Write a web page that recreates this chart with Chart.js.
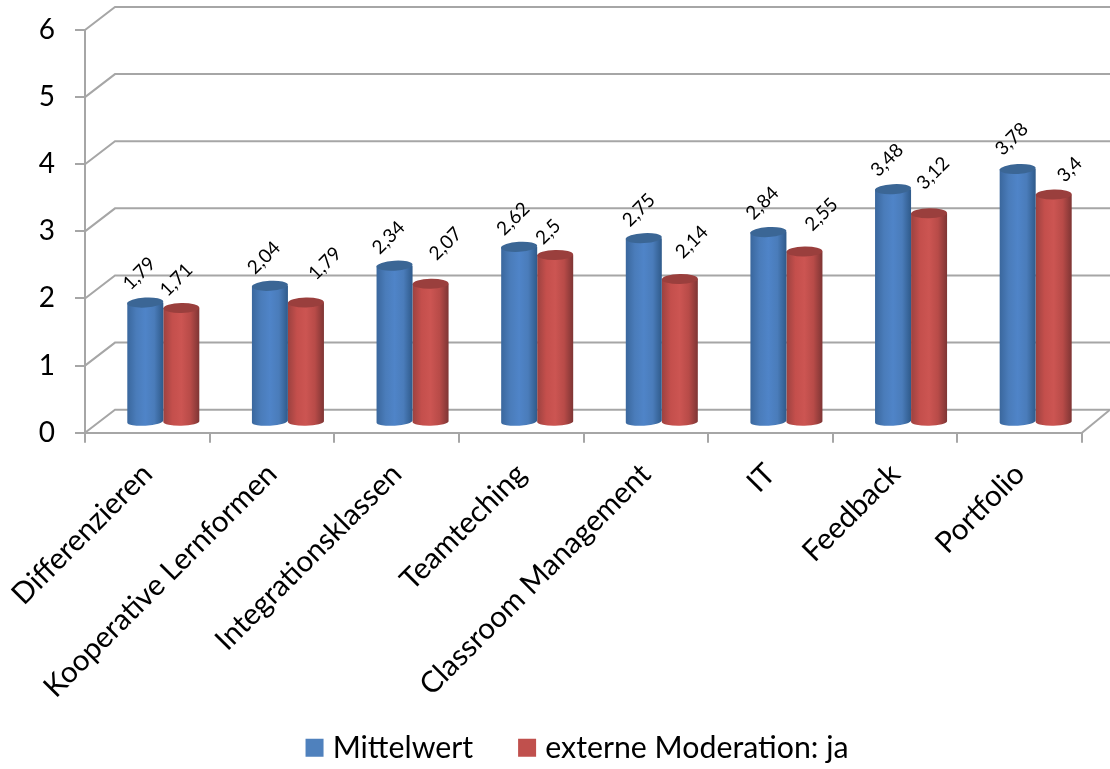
<!DOCTYPE html>
<html>
<head>
<meta charset="utf-8">
<title>Mittelwert</title>
<script src="https://cdn.jsdelivr.net/npm/chart.js@4"></script>
<style>
  html, body { margin: 0; padding: 0; background: #fff; }
  canvas { display: block; }
</style>
</head>
<body>
<canvas id="chart" width="1110" height="769"></canvas>
<script>
const categories = ['Differenzieren', 'Kooperative Lernformen', 'Integrationsklassen', 'Teamteching',
  'Classroom Management', 'IT', 'Feedback', 'Portfolio'];
const mittelwert = [1.79, 2.04, 2.34, 2.62, 2.75, 2.84, 3.48, 3.78];
const moderation = [1.71, 1.79, 2.07, 2.5, 2.14, 2.55, 3.12, 3.4];
const yTicks = [0, 1, 2, 3, 4, 5, 6];

// how far each value label sits from the top of its cylinder
const blueNudge = [[-6, -29], [-6, -28], [-6, -28], [-6, -28], [-5, -28], [-6, -29], [-6, -29], [-6, -30]];
const redNudge = [[-5, -28], [19, -39], [15, -40], [-7, -23], [12, -37], [17, -37], [4, -40], [16, -25]];

const GRID = '#a6a6a6';
const FONT = 'Lato, sans-serif';
// wall depth of the fake 3D box
const DEPTH_X = 30, DEPTH_Y = 23;
// bars stand on the floor, between the front edge and the back wall
const BAR_DX = 16, BAR_DY = -10;

function shade(ctx, left, right, stops) {
  const g = ctx.createLinearGradient(left, 0, right, 0);
  stops.forEach((c, i) => g.addColorStop(i / (stops.length - 1), c));
  return g;
}

// the plot box is placed by hand, so scales keep no room for their labels
function noMargins(scale) {
  scale.paddingTop = scale.paddingBottom = scale.paddingLeft = scale.paddingRight = 0;
  scale._margins = { top: 0, bottom: 0, left: 0, right: 0 };
}

// bar controller that paints each bar as a cylinder
class CylinderController extends Chart.BarController {
  draw() {
    const ctx = this.chart.ctx;
    const ds = this.getDataset();
    this._cachedMeta.data.forEach(bar => {
      const cx = bar.x + BAR_DX;
      const top = bar.y + BAR_DY;
      const bottom = bar.base + BAR_DY;
      const rx = bar.width / 2;
      ctx.save();
      ctx.beginPath();
      ctx.moveTo(cx - rx, top);
      ctx.lineTo(cx - rx, bottom);
      ctx.ellipse(cx, bottom, rx, 4, ds.tilt, Math.PI, 0, true);
      ctx.lineTo(cx + rx, top);
      ctx.closePath();
      ctx.fillStyle = shade(ctx, cx - rx, cx + rx, ds.bodyStops);
      ctx.fill();
      ctx.beginPath();
      ctx.ellipse(cx, top, rx, 5, ds.tilt, 0, Math.PI * 2);
      ctx.fillStyle = ds.capColor;
      ctx.fill();
      ctx.restore();
    });
  }
}
CylinderController.id = 'cylinder';
CylinderController.defaults = Chart.BarController.defaults;
CylinderController.overrides = Chart.BarController.overrides;
Chart.register(CylinderController);

// long rotated labels run past the legend's top edge, and the legend sits right of centre
const layoutTweaks = {
  id: 'layoutTweaks',
  afterLayout(chart) {
    chart.scales.x.bottom = chart.height;
    chart.legend.left += 52;
  }
};

// back wall and floor lines
const wallPlugin = {
  id: 'wall',
  beforeDatasetsDraw(chart) {
    const { ctx, scales: { x, y }, width } = chart;
    ctx.save();
    ctx.strokeStyle = GRID;
    ctx.lineWidth = 2;
    yTicks.forEach(t => {
      const py = y.getPixelForValue(t);
      ctx.beginPath();
      ctx.moveTo(x.left, py);
      ctx.lineTo(x.left + DEPTH_X, py - DEPTH_Y);
      ctx.lineTo(width, py - DEPTH_Y);
      ctx.stroke();
    });
    const py0 = y.getPixelForValue(0);
    ctx.beginPath();
    ctx.moveTo(x.right, py0);
    ctx.lineTo(width, py0 - DEPTH_Y);
    ctx.stroke();
    ctx.restore();
  }
};

// value labels, rotated, with decimal comma
const valueLabels = {
  id: 'valueLabels',
  afterDatasetsDraw(chart) {
    const ctx = chart.ctx;
    const nudges = [blueNudge, redNudge];
    chart.data.datasets.forEach((ds, d) => {
      chart.getDatasetMeta(d).data.forEach((bar, i) => {
        ctx.save();
        ctx.translate(bar.x + BAR_DX + nudges[d][i][0], bar.y + BAR_DY + nudges[d][i][1]);
        ctx.rotate(-Math.PI / 4);
        ctx.font = '19px ' + FONT;
        ctx.fillStyle = '#000';
        ctx.textAlign = 'center';
        ctx.textBaseline = 'middle';
        ctx.fillText(String(ds.data[i]).replace('.', ','), 0, 0);
        ctx.restore();
      });
    });
  }
};

new Chart(document.getElementById('chart'), {
  type: 'cylinder',
  data: {
    labels: categories,
    datasets: [{
      label: 'Mittelwert',
      data: mittelwert,
      backgroundColor: '#4f81bd',
      bodyStops: ['#3a679d', '#4a7cba', '#4f84c8', '#4a7cba', '#2f5a8a'],
      capColor: '#3b6695',
      tilt: -0.06
    }, {
      label: 'externe Moderation: ja',
      data: moderation,
      backgroundColor: '#c0504d',
      bodyStops: ['#9c4240', '#c44f4c', '#cc5552', '#b84b48', '#7e3534'],
      capColor: '#9a3f3d',
      tilt: -0.02
    }]
  },
  options: {
    responsive: false,
    animation: false,
    devicePixelRatio: 1,
    layout: { autoPadding: false, padding: { top: 30, right: 28, left: 26, bottom: -4 } },
    barPercentage: 1,
    categoryPercentage: 0.578,
    scales: {
      x: {
        grid: { drawOnChartArea: false, color: GRID, lineWidth: 2, tickLength: 10, offset: true },
        border: { color: GRID, width: 2 },
        ticks: { font: { family: FONT, size: 29.5 }, color: '#000', minRotation: 45, maxRotation: 45, autoSkip: false, padding: 14 },
        afterFit(scale) { scale.height = 249; noMargins(scale); }
      },
      y: {
        min: 0,
        max: 6,
        grid: { drawOnChartArea: false, color: GRID, lineWidth: 2, tickLength: 10 },
        border: { color: GRID, width: 2 },
        ticks: { font: { family: FONT, size: 28 }, color: '#000', stepSize: 1, padding: 20 },
        afterFit(scale) { scale.width = 59; noMargins(scale); }
      }
    },
    plugins: {
      tooltip: { enabled: false },
      legend: {
        position: 'bottom',
        labels: { font: { family: FONT, size: 30.3 }, color: '#000', usePointStyle: true, pointStyle: 'rect', boxWidth: 6, boxHeight: 18, padding: 51 }
      }
    }
  },
  plugins: [layoutTweaks, wallPlugin, valueLabels]
});
</script>
</body>
</html>
